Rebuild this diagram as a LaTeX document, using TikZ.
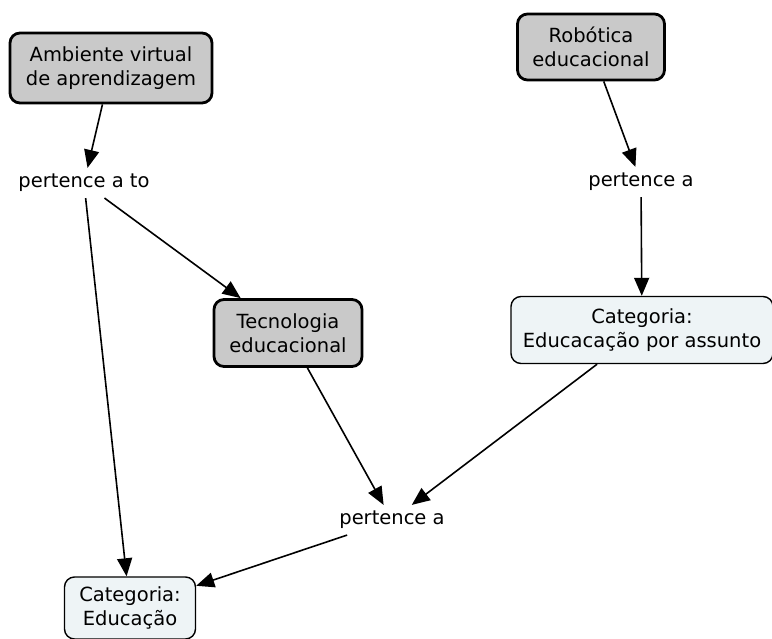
\documentclass[tikz,border=0pt]{standalone}
\usepackage{fontspec}
\setmainfont{DejaVu Sans}
\usetikzlibrary{arrows.meta}
\definecolor{conceptgray}{HTML}{C9C9C9}
\definecolor{categoryfill}{HTML}{EEF4F6}
\begin{document}
\begin{tikzpicture}[x=1pt,y=-1pt,
  every node/.style={font=\fontsize{19.5}{24}\selectfont, align=center},
  concept/.style={draw=black, line width=2.8pt, rounded corners=10pt, fill=conceptgray, inner sep=0pt},
  category/.style={draw=black, line width=1.4pt, rounded corners=10pt, fill=categoryfill, inner sep=0pt},
  linkword/.style={inner sep=6pt},
  arr/.style={line width=1.6pt, -{Triangle[length=18pt,width=15pt]}}
]
\useasboundingbox (0,0) rectangle (772,639);
\fill[white] (0,0) rectangle (772,639);

% concepts
\node[concept, minimum width=202pt, minimum height=70pt] (amb) at (111,68) {Ambiente virtual\\de aprendizagem};
\node[concept, minimum width=147pt, minimum height=66pt] (rob) at (591,47) {Robótica\\educacional};
\node[concept, minimum width=148pt, minimum height=67pt] (tec) at (288,333) {Tecnologia\\educacional};
\node[category, minimum width=262pt, minimum height=67pt] (catass) at (642,330) {Categoria:\\Educacação por assunto};
\node[category, minimum width=131pt, minimum height=62pt] (catedu) at (130,608) {Categoria:\\Educação};

% linking phrases
\node[linkword] (pt1) at (84,183) {pertence a to};
\node[linkword] (pt2) at (641,182) {pertence a};
\node[linkword] (pt3) at (392,520) {pertence a};

% connectors
\draw[arr] (amb) -- (pt1);
\draw[arr] (pt1) -- (tec);
\draw[arr] (pt1) -- (catedu);
\draw[arr] (rob) -- (pt2);
\draw[arr] (pt2) -- (catass);
\draw[arr] (catass) -- (pt3);
\draw[arr] (tec) -- (pt3);
\draw[arr] (pt3) -- (catedu);
\end{tikzpicture}
\end{document}
